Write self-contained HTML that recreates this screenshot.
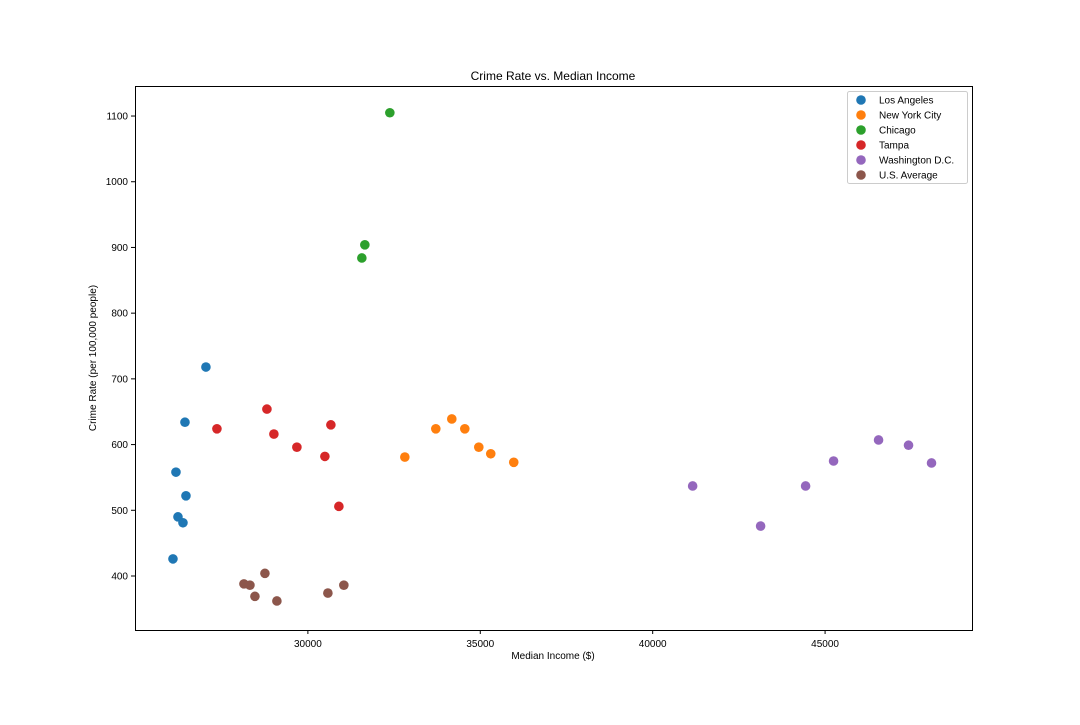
<!DOCTYPE html>
<html><head><meta charset="utf-8"><style>
body{margin:0;background:#fff;font-family:"Liberation Sans","DejaVu Sans",sans-serif;}
svg text{font-family:"Liberation Sans","DejaVu Sans",sans-serif;}
</style></head><body>
<svg id="chart" width="1080" height="720">
<rect width="1080" height="720" fill="#fff"/>
<text x="553" y="80" text-anchor="middle" font-size="12">Crime Rate vs. Median Income</text>
<g id="plot"></g>
<rect x="135.5" y="86.5" width="837" height="544" fill="none" stroke="#000" stroke-width="1"/>
<text x="553" y="659" text-anchor="middle" font-size="10">Median Income ($)</text>
<text transform="translate(96,358) rotate(-90)" text-anchor="middle" font-size="10">Crime Rate (per 100,000 people)</text>
<g id="legend"></g>
</svg>
<script>
const seriesNames=["Los Angeles","New York City","Chicago","Tampa","Washington D.C.","U.S. Average"];
const colors=["#1f77b4","#ff7f0e","#2ca02c","#d62728","#9467bd","#8c564b"];
const laX=[27043,26435,26174,26464,26232,26377,26087];
const laY=[718,634,558,522,490,481,426];
const nycX=[32812,33710,34174,34551,34957,35304,35971];
const nycY=[581,624,639,624,596,586,573];
const chiX=[32377,31565,31652];
const chiY=[1105,884,904];
const tpaX=[27362,28812,29014,29681,30667,30493,30899];
const tpaY=[624,654,616,596,630,582,506];
const dcX=[41159,43130,44435,45246,46551,47420,48087];
const dcY=[537,476,537,575,607,599,572];
const usX=[28145,28319,28464,28754,29101,30580,31043];
const usY=[388,386,369,404,362,374,386];
const xTicks=[30000,35000,40000,45000];
const yTicks=[400,500,600,700,800,900,1000,1100];

const NS="http://www.w3.org/2000/svg";
const X0=135,X1=972,Y0=630,Y1=86;
const xMin=24986,xMax=49261,yMin=317.8,yMax=1145.7;
const sx=v=>X0+(v-xMin)/(xMax-xMin)*(X1-X0);
const sy=v=>Y0-(v-yMin)/(yMax-yMin)*(Y0-Y1);
const svg=document.getElementById('chart');
const plot=document.getElementById('plot');
function mk(tag,attrs,parent){const e=document.createElementNS(NS,tag);for(const k in attrs)e.setAttribute(k,attrs[k]);parent.appendChild(e);return e;}

xTicks.forEach(t=>{
  const x=sx(t);
  const l=mk('line',{x1:x,x2:x,y1:630,y2:634,stroke:'#000'},svg);
  
  
  const tx=mk('text',{x:x,y:647,'text-anchor':'middle','font-size':10},svg);
  tx.textContent=t;
  
  
});
yTicks.forEach(t=>{
  const y=sy(t);
  const l=mk('line',{x1:131,x2:135,y1:y,y2:y,stroke:'#000'},svg);
  
  
  const tx=mk('text',{x:128,y:y+3.5,'text-anchor':'end','font-size':10},svg);
  tx.textContent=t;
  
  
});

const allX=[laX,nycX,chiX,tpaX,dcX,usX];
const allY=[laY,nycY,chiY,tpaY,dcY,usY];
allX.forEach((xs,i)=>{
  xs.forEach((xv,j)=>{
    const c=mk('circle',{cx:sx(xv),cy:sy(allY[i][j]),r:4.8,fill:colors[i]},plot);
    
    
  });
});

const lg=document.getElementById('legend');
const box=mk('rect',{x:847.5,y:91.5,width:120,height:92,fill:'#fff',stroke:'#ccc',rx:2},lg);


seriesNames.forEach((n,i)=>{
  const y=100+i*15;
  const c=mk('circle',{cx:861,cy:y,r:4.8,fill:colors[i]},lg);
  
  
  const t=mk('text',{x:879,y:y+3.5,'font-size':10},lg);
  t.textContent=n;
  
  
});
</script>
</body></html>
